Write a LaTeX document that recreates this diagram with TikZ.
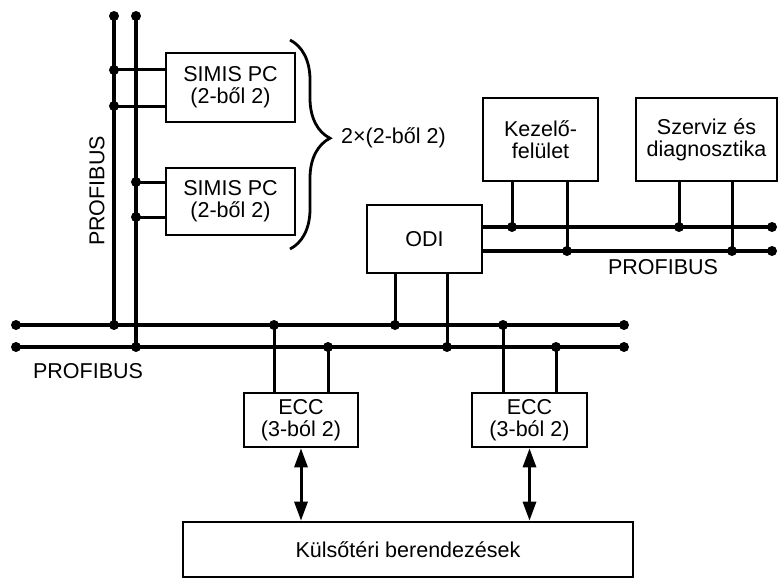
\documentclass[tikz,border=0pt]{standalone}
\usepackage{fontspec}
\setmainfont{Liberation Sans}
\usetikzlibrary{arrows.meta,decorations.pathreplacing,calc}
\tikzset{
  busline/.style={line width=3.3pt, line cap=round},
  tapline/.style={line width=3pt},
  linkarrow/.style={{Triangle[length=19pt,width=13pt]}-{Triangle[length=19pt,width=13pt]}, line width=3pt},
  groupbrace/.style={decorate, decoration={brace, amplitude=40pt, aspect=0.47}, line width=2.8pt}
}

\begin{document}
\begin{tikzpicture}[
  x=1pt, y=-1pt,
  font=\fontsize{21.5}{22}\selectfont,
  box/.style={draw, line width=2.6pt, align=center, inner sep=0pt},
  lab/.style={inner sep=0pt}
]
\useasboundingbox (0,0) rectangle (779,586);

% boxes
\node[box, minimum width=129pt, minimum height=69pt] at (230.5,87.5) (simisA) {SIMIS PC\\(2-ből 2)};
\node[box, minimum width=129pt, minimum height=67pt] at (230.5,201.5) (simisB) {SIMIS PC\\(2-ből 2)};
\node[box, minimum width=115pt, minimum height=68pt] at (424.5,239) (odi) {ODI};
\node[box, minimum width=115pt, minimum height=83pt] at (540.5,139.5) (kezelo) {Kezelő-\\felület};
\node[box, minimum width=141pt, minimum height=83pt] at (706.5,139.5) (szerviz) {Szerviz és\\diagnosztika};
\node[box, minimum width=114pt, minimum height=54pt] at (301,420) (eccA) {ECC\\(3-ból 2)};
\node[box, minimum width=115pt, minimum height=54pt] at (529.5,420) (eccB) {ECC\\(3-ból 2)};
\node[box, minimum width=450pt, minimum height=55pt] at (408,549.5) (kulso) {Külsőtéri berendezések};

% bus end points and junctions
\coordinate (busAw) at (16,325);  \coordinate (busAe) at (624,325);
\coordinate (busBw) at (16,347);  \coordinate (busBe) at (624,347);
\coordinate (vAtop) at (114,16);  \coordinate (vAbot) at (114,325);
\coordinate (vBtop) at (136,16);  \coordinate (vBbot) at (136,347);
\coordinate (odiAe) at (772,227); \coordinate (odiBe) at (772,251);
\coordinate (sA1) at (114,70);    \coordinate (sA2) at (114,106);
\coordinate (sB1) at (136,182);   \coordinate (sB2) at (136,217);
\coordinate (oA) at (395,325);    \coordinate (oB) at (447,347);
\coordinate (eA1) at (274,325);   \coordinate (eA2) at (328,347);
\coordinate (eB1) at (503,325);   \coordinate (eB2) at (556,347);
\coordinate (kA) at (512,227);    \coordinate (kB) at (567,251);
\coordinate (dA) at (679,227);    \coordinate (dB) at (732,251);

% PROFIBUS lines
\draw[busline] (busAw) -- (busAe);
\draw[busline] (busBw) -- (busBe);
\draw[busline] (vAtop) -- (vAbot);
\draw[busline] (vBtop) -- (vBbot);
\draw[busline] (odi.east |- odiAe) -- (odiAe);
\draw[busline] (odi.east |- odiBe) -- (odiBe);

% taps
\draw[tapline] (sA1) -- (simisA.west |- sA1);
\draw[tapline] (sA2) -- (simisA.west |- sA2);
\draw[tapline] (sB1) -- (simisB.west |- sB1);
\draw[tapline] (sB2) -- (simisB.west |- sB2);
\draw[tapline] (odi.south -| oA) -- (oA);
\draw[tapline] (odi.south -| oB) -- (oB);
\draw[tapline] (eccA.north -| eA1) -- (eA1);
\draw[tapline] (eccA.north -| eA2) -- (eA2);
\draw[tapline] (eccB.north -| eB1) -- (eB1);
\draw[tapline] (eccB.north -| eB2) -- (eB2);
\draw[tapline] (kezelo.south -| kA) -- (kA);
\draw[tapline] (kezelo.south -| kB) -- (kB);
\draw[tapline] (szerviz.south -| dA) -- (dA);
\draw[tapline] (szerviz.south -| dB) -- (dB);

\foreach \p in {busAw,busAe,busBw,busBe,vAtop,vBtop,vAbot,vBbot,odiAe,odiBe,
  sA1,sA2,sB1,sB2,oA,oB,eA1,eA2,eB1,eB2,kA,kB,dA,dB}
  \fill (\p) circle (5pt);

% links to field equipment
\draw[linkarrow] (eccA.south) -- (eccA.south |- kulso.north);
\draw[linkarrow] (eccB.south) -- (eccB.south |- kulso.north);

% brace and labels
\coordinate (braceTop) at (290,40);
\coordinate (braceBot) at (290,249);
\draw[groupbrace] (braceTop) -- (braceBot);
\node[lab, anchor=west] at (341,138) (groupLab) {2×(2-ből 2)};
\node[lab, rotate=90] at (97,191) (pbVert) {PROFIBUS};
\node[lab] at (88,371) (pbLeft) {PROFIBUS};
\node[lab] at (663,267) (pbRight) {PROFIBUS};
\end{tikzpicture}
\end{document}
